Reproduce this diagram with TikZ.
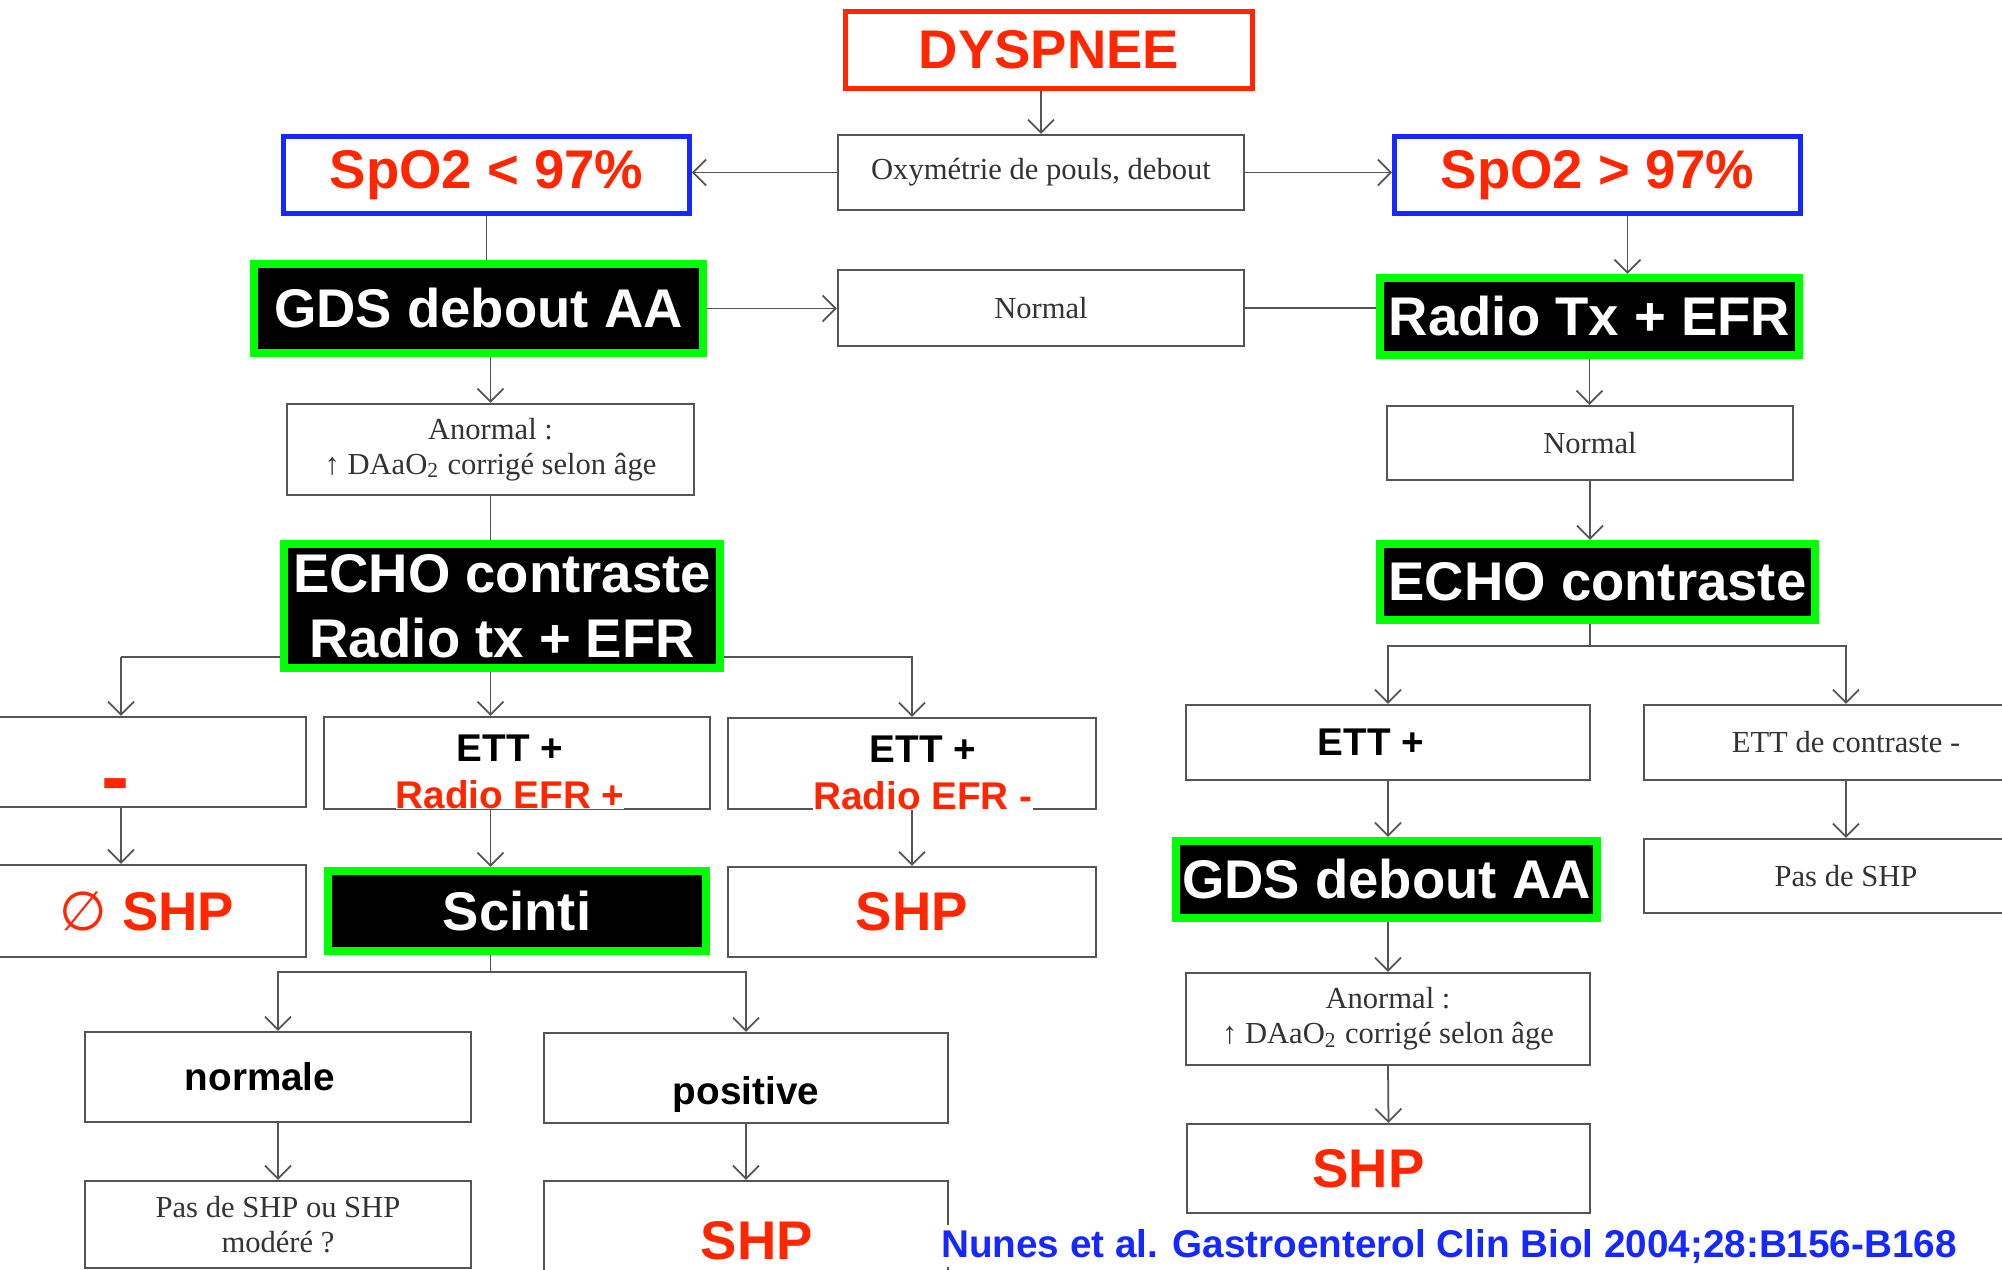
\documentclass[tikz,border=0pt]{standalone}
\usepackage{fontspec}
\setmainfont{Liberation Serif}
\newfontfamily\arialfont{Liberation Sans}
\newfontfamily\symbfont{DejaVu Sans}
\usetikzlibrary{arrows.meta}

\definecolor{alertred}{RGB}{255,38,0}
\definecolor{refblue}{RGB}{20,40,255}
\definecolor{boxgreen}{RGB}{0,255,0}
\definecolor{scangray}{RGB}{85,85,85}

\newcommand{\bigfont}{\arialfont\bfseries\fontsize{15.5}{18.5}\selectfont}
\newcommand{\midfont}{\arialfont\bfseries\fontsize{11}{13.4}\selectfont}
\newcommand{\scanfont}{\fontsize{8.7}{10}\selectfont}

\begin{document}
\begin{tikzpicture}[
  box/.style={draw=scangray, line width=0.6pt, rectangle, inner sep=0pt, align=center,
              font=\scanfont, text=black!80},
  redbox/.style={draw=alertred, line width=1.4pt, outer sep=0.7pt, inner sep=0pt,
                 font=\bigfont, text=alertred},
  bluebox/.style={draw=refblue, line width=1.4pt, outer sep=0.7pt, inner sep=0pt,
                  minimum width=4.06cm, minimum height=0.77cm, font=\bigfont, text=alertred},
  blackbox/.style={draw=boxgreen, fill=black, line width=2.3pt, outer sep=1.15pt, inner sep=0pt,
                   align=center, font=\bigfont, text=white},
  midtext/.style={font=\midfont, text=black},
  redtext/.style={font=\bigfont, text=alertred},
  arrow/.style={->, draw=scangray, line width=0.5pt, >={Straight Barb[length=1.3mm,width=2.6mm]}},
  link/.style={draw=scangray, line width=0.5pt}
]
\path[use as bounding box, fill=white] (0,0) rectangle (20.02,-12.70);

% Top
\node[redbox, minimum width=4.07cm, minimum height=0.77cm] (dysp) at (10.49,-0.50) {DYSPNEE};
\node[box, minimum width=4.06cm, minimum height=0.75cm] (oxy) at (10.41,-1.725) {Oxymétrie de pouls, debout};
\node[bluebox] (spolow) at (4.865,-1.75) {SpO2 < 97\%};
\node[bluebox] (spohigh) at (15.975,-1.75) {SpO2 > 97\%};

% Second level
\node[blackbox, minimum width=4.49cm, minimum height=0.89cm] (gdsl) at (4.785,-3.085) {GDS debout AA};
\node[box, minimum width=4.06cm, minimum height=0.76cm] (normid) at (10.41,-3.08) {Normal};
\node[blackbox, minimum width=4.19cm, minimum height=0.77cm] (radio) at (15.895,-3.165) {Radio Tx + EFR};
\node[box, minimum width=4.07cm, minimum height=0.91cm] (anorl) at (4.905,-4.495) {Anormal :\\↑ DAaO\textsubscript{2} corrigé selon âge};
\node[box, minimum width=4.06cm, minimum height=0.74cm] (norr) at (15.90,-4.43) {Normal};
\node[blackbox, minimum width=4.36cm, minimum height=1.24cm] (echol) at (5.02,-6.06) {ECHO contraste\\Radio tx + EFR};
\node[blackbox, minimum width=4.35cm, minimum height=0.76cm] (echor) at (15.975,-5.82) {ECHO contraste};

% Left branch results
\coordinate (colA) at (1.21,-6.57);
\node[box, minimum width=3.18cm, minimum height=0.90cm] (minusb) at (1.47,-7.62) {};
\node[font=\arialfont\bfseries\fontsize{24}{26}\selectfont, text=alertred, inner sep=0pt] (minus) at (1.16,-7.92) {-};
\node[box, minimum width=3.86cm, minimum height=0.92cm] (ettp) at (5.17,-7.63) {};
\node[midtext, align=center, inner sep=0pt, fill=white] (ettptext) at ([xshift=-0.07cm, yshift=-0.09cm]ettp.center) {ETT +\\\textcolor{alertred}{Radio EFR +}};
\node[box, minimum width=3.68cm, minimum height=0.91cm] (ettm) at (9.12,-7.635) {};
\node[midtext, align=center, inner sep=0pt, fill=white] (ettmtext) at ([xshift=0.11cm, yshift=-0.09cm]ettm.center) {ETT +\\\textcolor{alertred}{Radio EFR -}};
\node[box, redtext, minimum width=3.18cm, minimum height=0.92cm] (noshp) at (1.47,-9.11) {{\mdseries\symbfont ∅} SHP};
\node[blackbox, minimum width=3.78cm, minimum height=0.80cm] (scinti) at (5.17,-9.11) {Scinti};
\node[box, redtext, minimum width=3.68cm, minimum height=0.90cm] (shpm) at (9.12,-9.12) {SHP};
\node[box, midtext, minimum width=3.86cm, minimum height=0.90cm] (normale) at (2.78,-10.77) {normale\hspace*{0.36cm}};
\node[box, midtext, minimum width=4.04cm, minimum height=0.90cm, text height=17.1pt, text depth=2.3pt] (positive) at (7.46,-10.78) {positive};
\node[box, minimum width=3.86cm, minimum height=0.87cm] (pasmod) at (2.78,-12.245) {Pas de SHP ou SHP\\modéré ?};
\node[box, redtext, minimum width=4.04cm, minimum height=1.19cm] (shpb) at (7.46,-12.405) {\hspace*{0.22cm}SHP};

% Right branch results
\node[box, midtext, minimum width=4.04cm, minimum height=0.75cm] (ettr) at (13.88,-7.425) {ETT +\hspace*{0.34cm}};
\node[box, minimum width=4.04cm, minimum height=0.75cm] (ettc) at (18.46,-7.425) {ETT de contraste -};
\node[blackbox, minimum width=4.21cm, minimum height=0.77cm] (gdsr) at (13.865,-8.795) {GDS debout AA};
\node[box, minimum width=4.04cm, minimum height=0.74cm] (pasr) at (18.46,-8.76) {Pas de SHP};
\node[box, minimum width=4.04cm, minimum height=0.92cm] (anorr) at (13.88,-10.19) {Anormal :\\↑ DAaO\textsubscript{2} corrigé selon âge};
\node[box, redtext, minimum width=4.03cm, minimum height=0.89cm] (shpr) at (13.885,-11.685) {SHP\hspace*{0.4cm}};

% Arrows
\draw[arrow] (oxy.north |- dysp.south) -- (oxy.north);
\draw[arrow] (oxy.west) -- (oxy.west -| spolow.east);
\draw[arrow] (oxy.east) -- (oxy.east -| spohigh.west);
\draw[link] (spolow.south) -- (spolow.south |- gdsl.north);
\draw[arrow] (gdsl.east) -- (gdsl.east -| normid.west);
\draw[link] (normid.east) -- (normid.east -| radio.west);
\draw[arrow] ([xshift=3mm]spohigh.south) -- ([xshift=3mm]spohigh.south |- radio.north);
\draw[arrow] (anorl.north |- gdsl.south) -- (anorl.north);
\draw[link] (anorl.south) -- (anorl.south |- echol.north);

\draw[link] ([yshift=1.5mm]echol.south west) -- (colA);
\draw[arrow] (colA) -- (colA |- minusb.north);
\draw[arrow] (anorl.south |- echol.south) -- (anorl.south |- ettp.north);
\draw[arrow] ([yshift=1.5mm]echol.south east) -| (ettm.north);
\draw[arrow] (colA |- minusb.south) -- (colA |- noshp.north);
\draw[arrow] (anorl.south |- ettp.south) -- (anorl.south |- scinti.north);
\draw[arrow] (ettm.south) -- (shpm.north);
\draw[link] (anorl.south |- scinti.south) -- ++(0,-0.17) coordinate (scb);
\draw[arrow] (scb) -| (normale.north);
\draw[arrow] (scb) -| (positive.north);
\draw[arrow] (normale.south) -- (pasmod.north);
\draw[arrow] (positive.south) -- (shpb.north);

\draw[arrow] (radio.south) -- (radio.south |- norr.north);
\draw[arrow] (norr.south) -- (norr.south |- echor.north);
\draw[link] (norr.south |- echor.south) -- ++(0,-0.22) coordinate (ecb);
\draw[arrow] (ecb) -| (ettr.north);
\draw[arrow] (ecb) -| (ettc.north);
\draw[arrow] (ettr.south) -- (ettr.south |- gdsr.north);
\draw[arrow] (ettr.south |- gdsr.south) -- (ettr.south |- anorr.north);
\draw[arrow] (anorr.south) -- (shpr.north);
\draw[arrow] (ettc.south) -- (pasr.north);

% Reference
\node[font=\arialfont\bfseries\fontsize{11}{13}\selectfont, text=refblue, fill=white, inner sep=1pt] (cite) at (14.49,-12.46) {Nunes et al. Gastroenterol Clin Biol 2004;28:B156-B168};

\end{tikzpicture}
\end{document}
